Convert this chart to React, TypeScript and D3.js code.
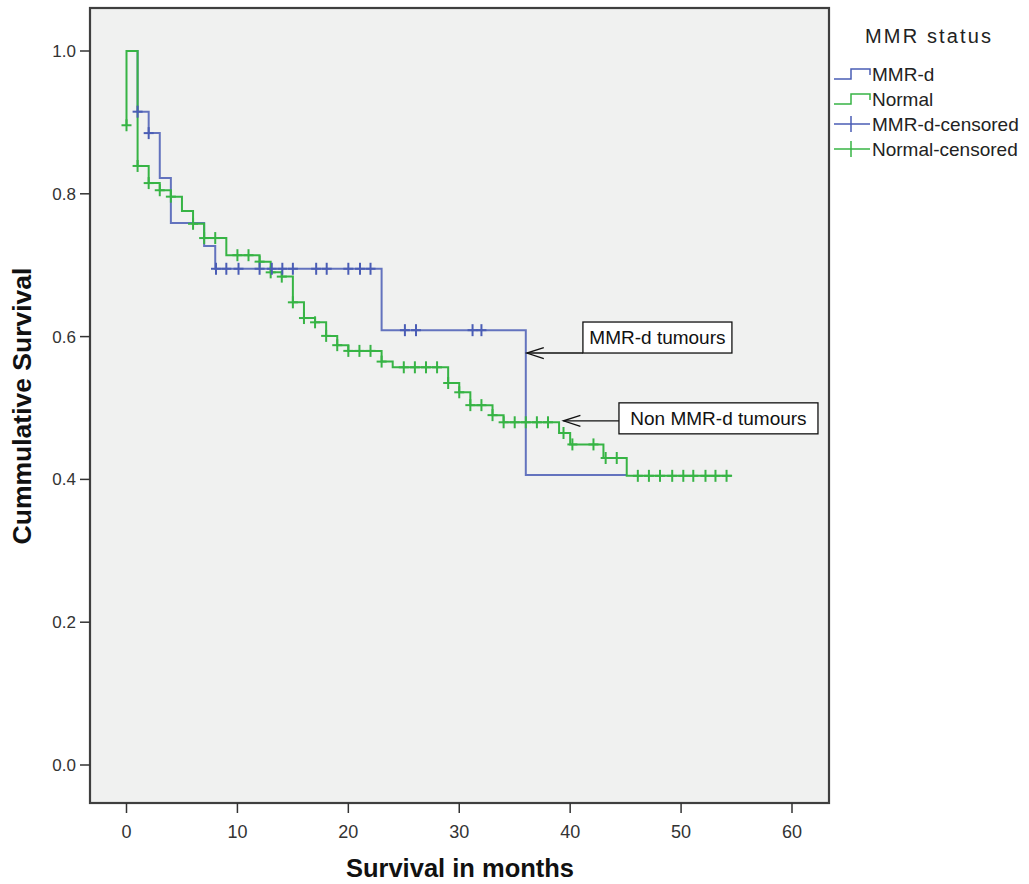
import React from 'react';
import * as d3 from 'd3';

const W = 1029;
const H = 884;

const xTicks = [0, 10, 20, 30, 40, 50, 60];
const yTicks = [0.0, 0.2, 0.4, 0.6, 0.8, 1.0];

// MMR-d Kaplan-Meier steps (time in months, survival after the step)
const mmrTimes = [0, 1, 2, 3, 4, 7, 8, 23, 36, 45.1];
const mmrSurv = [1.0, 0.915, 0.885, 0.822, 0.759, 0.727, 0.695, 0.609, 0.406, 0.406];
const mmrCensorTimes = [1, 2, 8.07, 9, 10.1, 12, 13.1, 14.05, 15, 17.1, 18.05, 20, 21.05, 22, 25.1, 26.1, 31.2, 32];
const mmrCensorSurv = [0.915, 0.885, 0.695, 0.695, 0.695, 0.695, 0.695, 0.695, 0.695, 0.695, 0.695, 0.695, 0.695, 0.695, 0.609, 0.609, 0.609, 0.609];

// Normal steps
const normalTimes = [0, 0, 1, 2, 3, 4, 5, 6, 7, 9, 12, 13, 14, 15, 16, 17, 18, 19, 20, 23, 24, 29, 30, 31, 33, 34, 39, 40, 43, 45.1, 54.6];
const normalSurv = [0.896, 1.0, 0.839, 0.815, 0.805, 0.796, 0.776, 0.758, 0.738, 0.714, 0.705, 0.69, 0.684, 0.648, 0.626, 0.62, 0.601, 0.588, 0.58, 0.565, 0.557, 0.535, 0.522, 0.504, 0.49, 0.48, 0.465, 0.449, 0.43, 0.405, 0.405];
const normalCensorTimes = [0, 1, 2, 3, 4, 6, 7, 8, 10, 11, 12, 13, 14, 15, 16, 17, 18, 19, 20, 21, 22, 23, 25, 26, 27, 28, 29, 30, 31, 32, 33, 34, 35, 36, 37, 38, 39.4, 40.2, 42.1, 43.2, 44.2, 46.1, 47.1, 48.1, 49.2, 50.2, 51.1, 52.2, 53.1, 54.1];
const normalCensorSurv = [0.896, 0.839, 0.815, 0.805, 0.796, 0.758, 0.738, 0.738, 0.714, 0.714, 0.705, 0.69, 0.684, 0.648, 0.626, 0.62, 0.601, 0.588, 0.58, 0.58, 0.58, 0.565, 0.557, 0.557, 0.557, 0.557, 0.535, 0.522, 0.504, 0.504, 0.49, 0.48, 0.48, 0.48, 0.48, 0.48, 0.465, 0.449, 0.449, 0.43, 0.43, 0.405, 0.405, 0.405, 0.405, 0.405, 0.405, 0.405, 0.405, 0.405];

const legendLabels = ['MMR-d', 'Normal', 'MMR-d-censored', 'Normal-censored'];
const legendTitle = 'MMR status';
const annotations = [
  { label: 'MMR-d tumours', t: 36, s: 0.577, boxT: 41.15, boxW: 149, above: 31 },
  { label: 'Non MMR-d tumours', t: 39.3, s: 0.482, boxT: 44.4, boxW: 199, above: 18 },
];

const BLUE = '#4a5db5';
const GREEN = '#37b445';
const FONT = "'Liberation Sans', Arial, sans-serif";
const NARROW = "'Liberation Sans Narrow', 'Liberation Sans', Arial, sans-serif";

export default function App() {
  const frame = { left: 90, right: 829, top: 8, bottom: 803 };
  const x = d3.scaleLinear().domain([0, 60]).range([126.5, 792]);
  const y = d3.scaleLinear().domain([0, 1]).range([765, 51]);

  const line = d3
    .line<[number, number]>()
    .x((d) => x(d[0]))
    .y((d) => y(d[1]))
    .curve(d3.curveStepAfter);

  const mmrPts = mmrTimes.map((t, i) => [t, mmrSurv[i]] as [number, number]);
  const normPts = normalTimes.map((t, i) => [t, normalSurv[i]] as [number, number]);

  const plus = (t: number, s: number, color: string, key: string) => {
    const cx = x(t);
    const cy = y(s);
    return (
      <g key={key} stroke={color} strokeWidth={2}>
        <line x1={cx - 5} x2={cx + 5} y1={cy} y2={cy} />
        <line x1={cx} x2={cx} y1={cy - 6} y2={cy + 6} />
      </g>
    );
  };

  const lgX = 834;
  const lgY0 = 81;
  const lgStep = 25;

  return (
    <svg width={W} height={H} style={{ position: 'absolute', left: 0, top: 0, background: '#fff' }}>
      <rect x={frame.left} y={frame.top} width={frame.right - frame.left} height={frame.bottom - frame.top} fill="#f0f1f0" stroke="#3f3f3f" strokeWidth={2.2} />

      {/* y axis */}
      {yTicks.map((v) => (
        <g key={'y' + v}>
          <line x1={frame.left - 10} x2={frame.left} y1={y(v)} y2={y(v)} stroke="#333" strokeWidth={1.5} />
          <text x={frame.left - 14} y={y(v) + 6} textAnchor="end" fontFamily={FONT} fontSize={17} fill="#333">
            {v.toFixed(1)}
          </text>
        </g>
      ))}
      {/* x axis */}
      {xTicks.map((v) => (
        <g key={'x' + v}>
          <line x1={x(v)} x2={x(v)} y1={frame.bottom} y2={frame.bottom + 10} stroke="#333" strokeWidth={1.5} />
          <text x={x(v)} y={frame.bottom + 35} textAnchor="middle" fontFamily={NARROW} fontSize={18} fill="#333">
            {v}
          </text>
        </g>
      ))}

      <text x={460} y={877} textAnchor="middle" fontFamily={FONT} fontWeight="bold" fontSize={25.5} fill="#111">
        Survival in months
      </text>
      <text transform={`translate(31,406) rotate(-90)`} textAnchor="middle" fontFamily={FONT} fontWeight="bold" fontSize={26.5} fill="#111">
        Cummulative Survival
      </text>

      {/* curves */}
      <path d={line(mmrPts) || ''} fill="none" stroke={BLUE} strokeWidth={2} strokeOpacity={0.85} />
      <path d={line(normPts) || ''} fill="none" stroke={GREEN} strokeWidth={2} />
      {normalCensorTimes.map((t, i) => plus(t, normalCensorSurv[i], GREEN, 'nc' + i))}
      {mmrCensorTimes.map((t, i) => plus(t, mmrCensorSurv[i], BLUE, 'mc' + i))}

      {/* annotations */}
      {annotations.map((a, i) => {
        const tipX = x(a.t) + 1;
        const tipY = y(a.s);
        const bx = x(a.boxT);
        const top = tipY - a.above;
        return (
          <g key={'a' + i}>
            <line x1={tipX} x2={bx} y1={tipY} y2={tipY} stroke="#111" strokeWidth={1.3} />
            <path d={`M${tipX + 17},${tipY - 5.5} L${tipX},${tipY} L${tipX + 17},${tipY + 5.5}`} fill="none" stroke="#111" strokeWidth={1.3} />
            <rect x={bx} y={top} width={a.boxW} height={31} fill="#fff" stroke="#111" strokeWidth={1.3} />
            <text x={bx + a.boxW / 2} y={top + 22} textAnchor="middle" fontFamily={FONT} fontSize={19} fill="#111">
              {a.label}
            </text>
          </g>
        );
      })}

      {/* legend */}
      <text x={865} y={43} fontFamily={FONT} fontSize={20} fill="#222" textLength={126} lengthAdjust="spacing">
        {legendTitle}
      </text>
      {legendLabels.map((lab, i) => {
        const by = lgY0 + i * lgStep;
        const color = i % 2 === 0 ? BLUE : GREEN;
        let sym;
        if (i < 2) {
          sym = (
            <path d={`M${lgX},${by - 2} L${lgX + 17},${by - 2} L${lgX + 17},${by - 12} L${lgX + 36},${by - 12} L${lgX + 36},${by - 6}`} fill="none" stroke={color} strokeWidth={1.5} />
          );
        } else {
          sym = (
            <g stroke={color} strokeWidth={1.5}>
              <line x1={lgX} x2={lgX + 36} y1={by - 7} y2={by - 7} />
              <line x1={lgX + 17} x2={lgX + 17} y1={by - 15} y2={by + 1} />
            </g>
          );
        }
        return (
          <g key={'lg' + i}>
            {sym}
            <text x={lgX + 38} y={by} fontFamily={FONT} fontSize={19} fill="#222">
              {lab}
            </text>
          </g>
        );
      })}
    </svg>
  );
}
